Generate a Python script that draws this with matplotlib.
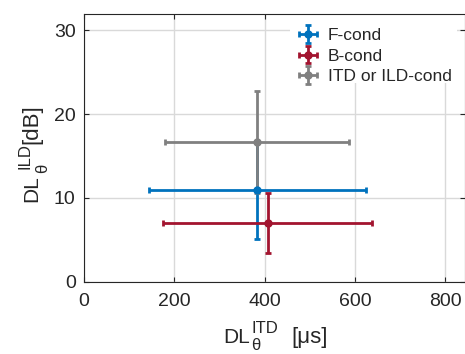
import numpy as np
import matplotlib
matplotlib.use("Agg")
import matplotlib.pyplot as plt
from matplotlib.patches import Rectangle

plt.rcParams['font.family'] = ['Liberation Sans', 'DejaVu Sans']

# data
conditions = ["F-cond", "B-cond", "ITD or ILD-cond"]
itd_mean = [384, 407, 384]      # us
itd_err = [240, 231, 204]
ild_mean = [11.0, 7.0, 16.7]    # dB
ild_err = [5.85, 3.6, 6.1]
colors = ["#0072BD", "#A2142F", "#808080"]

W, H = 465, 354
fig = plt.figure(figsize=(W/100, H/100), dpi=100)
ax = fig.add_axes([84/W, 72.3/H, 381/W, 268/H])

for i in range(len(conditions)):
    ax.errorbar(itd_mean[i], ild_mean[i], xerr=itd_err[i], yerr=ild_err[i],
                fmt='o', color=colors[i], ms=5, mfc=colors[i], mec=colors[i],
                elinewidth=2, capsize=2.3, capthick=2, label=conditions[i],
                zorder=3)

ax.set_xlim(0, 844)
ax.set_ylim(0, 32)
ax.set_xticks([0, 200, 400, 600, 800])
ax.set_yticks([0, 10, 20, 30])
ax.grid(True, color='#d9d9d9', lw=1)
ax.set_axisbelow(True)
ax.tick_params(direction='in', top=True, right=True, labelsize=14,
               colors='#262626', length=3.5)
ax.tick_params(axis='x', pad=8)
ax.tick_params(axis='y', pad=6)
for s in ax.spines.values():
    s.set_color('#262626')


def txt(x, y, s, size, rot=0):
    # x, y in pixels from the top-left corner, anchored at text baseline start
    fig.text(x/W, 1 - y/H, s, fontsize=size, color='#262626', ha='left',
             va='baseline', rotation=rot, rotation_mode='anchor')


# x label: DL_theta^ITD [us]
txt(223, 343, 'DL', 15)
txt(251, 333, 'ITD', 12)
txt(251, 350.5, '\u03b8', 12)
txt(291, 343, '[\u03bcs]', 16)

# y label: DL_theta^ILD[dB]
txt(37, 202, 'DL', 15, 90)
txt(29, 169, 'ILD', 12, 90)
txt(47, 173, '\u03b8', 12, 90)
txt(37, 144, '[dB]', 16, 90)

# white legend background (MATLAB style box without edge)
ax.add_patch(Rectangle((290/W, 1 - 83/H), 167/W, 69/H, transform=fig.transFigure,
                       facecolor='white', edgecolor='none', zorder=0.8))

leg = ax.legend(loc='upper right', fontsize=12.5, frameon=False,
                handlelength=1.1, handletextpad=0.6, borderpad=0.35,
                labelspacing=0.3, borderaxespad=0,
                bbox_to_anchor=(458/W, 1 - 22/H), bbox_transform=fig.transFigure)
for t in leg.get_texts():
    t.set_color('#262626')

fig.savefig("out.png", dpi=100)
